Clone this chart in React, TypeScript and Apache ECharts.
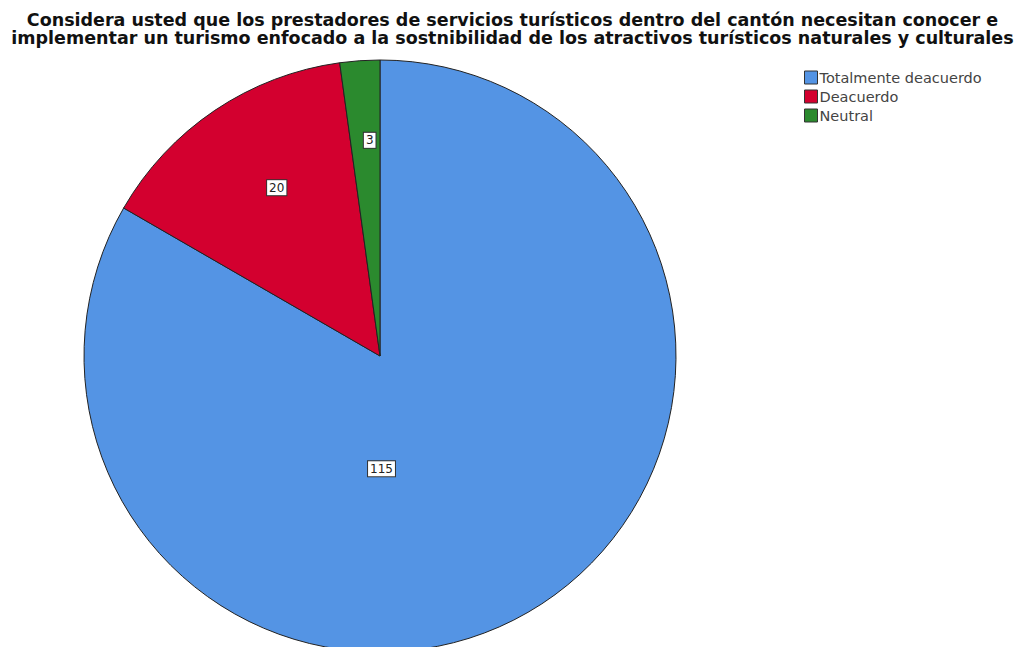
import React, { useEffect, useRef } from "react";
import * as echarts from "echarts";

const titleLines = [
  "Considera usted que los prestadores de servicios turísticos dentro del cantón necesitan conocer e",
  "implementar un turismo enfocado a la sostnibilidad de los atractivos turísticos naturales y culturales",
];
const categories = ["Totalmente deacuerdo", "Deacuerdo", "Neutral"];
const values = [115, 20, 3];
const colors = ["#5494e4", "#d3002f", "#2b8a2e"];
const labelOffsets: [number, number][] = [
  [-74, -18],
  [-19, -43],
  [0, -65],
];

export default function App() {
  const ref = useRef<HTMLDivElement>(null);
  useEffect(() => {
    if (!ref.current) return;
    const chart = echarts.init(ref.current, undefined, { renderer: "svg" });
    chart.setOption({
      animation: false,
      backgroundColor: "#ffffff",
      title: {
        text: titleLines.join("\n"),
        left: "center",
        top: 6,
        textStyle: {
          fontFamily: "DejaVu Sans, Verdana, sans-serif",
          fontSize: 17.5,
          fontWeight: "bold",
          color: "#111",
          lineHeight: 18,
        },
      },
      legend: {
        orient: "vertical",
        left: 799,
        top: 65,
        itemWidth: 13,
        itemHeight: 13,
        itemGap: 4,
        icon: "rect",
        data: categories,
        textStyle: {
          fontFamily: "DejaVu Sans, Verdana, sans-serif",
          fontSize: 14.5,
          color: "#444",
          padding: [0, 0, 0, -3],
        },
        itemStyle: { borderColor: "#333", borderWidth: 1 },
      },
      series: [
        {
          type: "pie",
          center: [380, 356],
          radius: 296,
          startAngle: 90,
          clockwise: true,
          avoidLabelOverlap: false,
          labelLine: { show: false },
          itemStyle: { borderColor: "#222", borderWidth: 1 },
          emphasis: { disabled: true },
          data: categories.map((name, i) => ({
            name,
            value: values[i],
            itemStyle: { color: colors[i] },
            label: { offset: labelOffsets[i] },
          })),
          label: {
            show: true,
            position: "inside",
            formatter: "{c}",
            fontFamily: "DejaVu Sans, Verdana, sans-serif",
            fontSize: 12,
            color: "#222",
            backgroundColor: "#ffffff",
            borderColor: "#333",
            borderWidth: 1,
            padding: [2, 2, 1, 2],
          },
        },
      ],
    });
    return () => chart.dispose();
  }, []);
  return (
    <div
      ref={ref}
      style={{ position: "fixed", left: 0, top: 0, width: 1025, height: 647 }}
    />
  );
}
